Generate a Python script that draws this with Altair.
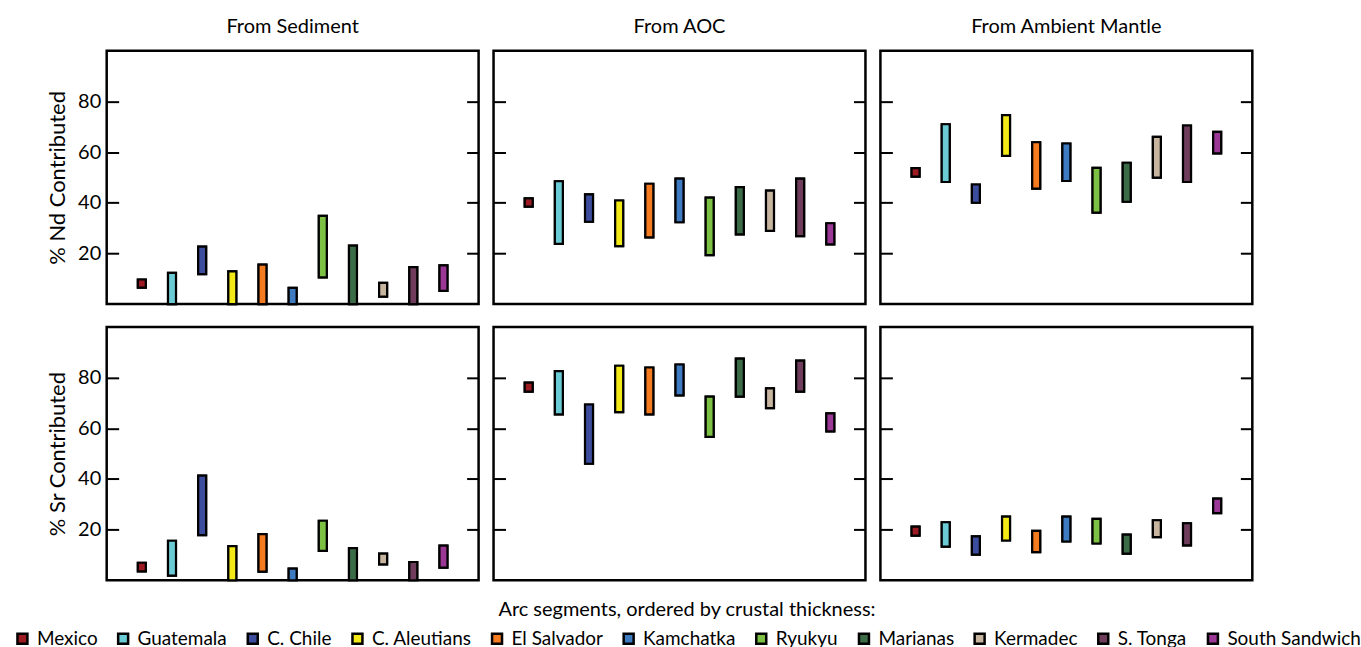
import altair as alt
import pandas as pd

# ---------------- data ----------------
arcs = ["Mexico", "Guatemala", "C. Chile", "C. Aleutians", "El Salvador", "Kamchatka",
        "Ryukyu", "Marianas", "Kermadec", "S. Tonga", "South Sandwich"]
arc_colors = ["#9c1b22", "#6bcbd5", "#3d4d9d", "#f3e917", "#f47b20", "#3f7bc1",
              "#7cc143", "#3b6c47", "#c7b5a0", "#6f3c5c", "#9b3896"]
arc_order = [1, 2, 3, 4, 5, 6, 7, 8, 9, 10, 11]
tick_values = [20, 40, 60, 80]

columns_titles = ["From Sediment", "From AOC", "From Ambient Mantle"]
row_titles = ["% Nd Contributed", "% Sr Contributed"]

nd_sed_lo = [6.5, 0, 11.8, 0, 0, 0, 10.5, 0, 2.9, 0, 5.2]
nd_sed_hi = [9.7, 12.3, 22.7, 12.9, 15.6, 6.4, 34.8, 23.1, 8.4, 14.6, 15.3]
nd_aoc_lo = [38.5, 23.8, 32.5, 22.9, 26.3, 32.3, 19.3, 27.5, 28.9, 26.8, 23.6]
nd_aoc_hi = [41.7, 48.5, 43.3, 40.9, 47.5, 49.5, 42.0, 46.2, 44.8, 49.5, 31.9]
nd_amb_lo = [50.3, 48.2, 40.0, 58.5, 45.6, 48.6, 36.1, 40.4, 49.9, 48.2, 59.5]
nd_amb_hi = [53.7, 71.0, 47.2, 74.6, 63.9, 63.4, 53.8, 55.8, 66.0, 70.5, 68.0]

sr_sed_lo = [3.5, 1.8, 17.8, 0, 3.4, 0, 11.6, 0, 6.3, 0, 5.0]
sr_sed_hi = [6.9, 15.6, 41.3, 13.5, 18.2, 4.6, 23.5, 12.7, 10.5, 7.2, 13.7]
sr_aoc_lo = [74.5, 65.5, 46.0, 66.4, 65.5, 73.0, 56.6, 72.5, 68.0, 74.5, 58.8]
sr_aoc_hi = [78.0, 82.6, 69.4, 84.7, 84.0, 85.2, 72.5, 87.5, 75.8, 86.7, 65.9]
sr_amb_lo = [17.6, 13.3, 10.1, 15.7, 11.1, 15.3, 14.5, 10.5, 17.0, 13.8, 26.5]
sr_amb_hi = [21.2, 22.9, 17.3, 25.1, 19.5, 25.1, 24.2, 18.0, 23.7, 22.5, 32.2]

FONT = "Lato"
PW, PH = 373, 254

legend = alt.Legend(
    title="Arc segments, ordered by crustal thickness:",
    orient="none", legendX=-94, legendY=551,
    direction="horizontal", columns=11,
    titleAnchor="middle", titleFont=FONT, titleFontSize=20, titleFontWeight="normal",
    titleColor="black", titlePadding=9, titleLimit=2000,
    labelFont=FONT, labelFontSize=19, labelColor="black", labelOffset=5, labelLimit=400,
    columnPadding=15, symbolType="square", symbolSize=100,
    symbolStrokeColor="black", symbolStrokeWidth=2.5, symbolOpacity=1,
)

color_enc = alt.Color("arc:N", scale=alt.Scale(domain=arcs, range=arc_colors), legend=legend)


def panel(lo, hi, header=None, ytitle=None):
    df = pd.DataFrame({"arc": arcs, "pos": arc_order, "lo": lo, "hi": hi})
    xenc = alt.X("pos:Q", scale=alt.Scale(domain=[0, 12], nice=False), axis=None)
    yscale = alt.Scale(domain=[0, 100], nice=False)
    left_kw = dict(orient="left", values=tick_values, tickSize=12, tickWidth=2,
                   tickColor="black", offset=-12, domain=False, grid=False,
                   labelFont=FONT, labelFontSize=20, labelColor="black", labelPadding=6)
    if ytitle:
        left_kw.update(labels=True, title=ytitle, titleFont=FONT, titleFontSize=22,
                       titleFontWeight="normal", titleColor="black", titlePadding=8)
    else:
        left_kw.update(labels=False, title=None)
    right_axis = alt.Axis(orient="right", values=tick_values, tickSize=12, tickWidth=2,
                          tickColor="black", offset=-12, domain=False, grid=False,
                          labels=False, title=None)
    base = alt.Chart(df).mark_bar(width=8, stroke="black", strokeWidth=2.2, opacity=1)
    l1 = base.encode(x=xenc, y=alt.Y("lo:Q", scale=yscale, axis=alt.Axis(**left_kw)),
                     y2="hi:Q", color=color_enc)
    l2 = base.encode(x=xenc, y=alt.Y("lo:Q", scale=yscale, axis=right_axis),
                     y2="hi:Q", color=color_enc)
    props = dict(width=PW, height=PH)
    if header:
        props["title"] = alt.TitleParams(header, font=FONT, fontSize=20, fontWeight="normal",
                                         color="black", anchor="middle", offset=14)
    return alt.layer(l1, l2).resolve_axis(y="independent").properties(**props)


row1 = alt.hconcat(
    panel(nd_sed_lo, nd_sed_hi, header=columns_titles[0], ytitle=row_titles[0]),
    panel(nd_aoc_lo, nd_aoc_hi, header=columns_titles[1]),
    panel(nd_amb_lo, nd_amb_hi, header=columns_titles[2]),
    spacing=9,
)
row2 = alt.hconcat(
    panel(sr_sed_lo, sr_sed_hi, ytitle=row_titles[1]),
    panel(sr_aoc_lo, sr_aoc_hi),
    panel(sr_amb_lo, sr_amb_hi),
    spacing=9,
)

chart = (
    alt.vconcat(row1, row2, spacing=18)
    .properties(padding={"left": 13, "top": 14, "right": 0, "bottom": 0})
    .configure(font=FONT)
    .configure_view(stroke="black", strokeWidth=2.5)
)

chart.save("out.html", embed_options={"renderer": "svg", "actions": False})
